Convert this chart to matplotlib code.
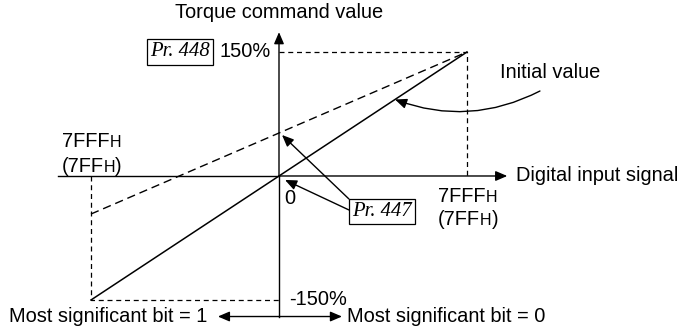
import matplotlib.pyplot as plt

# signal in units of full scale (7FFFH), torque in percent
sig = [-1.0, 0.0, 1.0]
initial_val = [-150, 0, 150]
bias_val = [-46, 52, 150]
full_pct = 150

plt.rcParams['font.family'] = ['Liberation Sans', 'DejaVu Sans']
fs = 14.4

fig = plt.figure(figsize=(6.99, 3.29), dpi=100)
ax = fig.add_axes([0, 0, 1, 1])
ax.set_xlim(-1.484, 2.234)
ax.set_ylim(-185.1, 212.9)
ax.axis('off')

k = 'black'
head = dict(arrowstyle='-|>,head_length=0.7,head_width=0.3', color=k, lw=1.0,
            shrinkA=0, shrinkB=0)

# axes with arrow heads
ax.plot([-1.175, 0], [0, 0], color=k, lw=1.0)
ax.annotate('', xy=(1.214, 0), xytext=(0, 0), arrowprops=head)
ax.plot([0, 0], [-171, 0], color=k, lw=1.0)
ax.annotate('', xy=(0, 174), xytext=(0, 0), arrowprops=head)

# dashed guide lines at the full scale points
ax.plot([0, sig[2], sig[2]], [full_pct, full_pct, 0], color=k, lw=0.9, ls=(0, (4, 3)))
ax.plot([sig[0], sig[0], 0], [0, -full_pct, -full_pct], color=k, lw=0.9, ls=(0, (4, 3)))

# characteristic lines
ax.plot(sig, initial_val, color=k, lw=1.1)
ax.plot(sig, bias_val, color=k, lw=1.0, ls=(0, (6, 3.5)))

# labels
ax.text(0, 198, 'Torque command value', ha='center', va='center', fontsize=fs)
ax.text(1.26, 0, 'Digital input signal', ha='left', va='center', fontsize=fs)
ax.text(-0.045, full_pct, '150%', ha='right', va='center', fontsize=fs)
ax.text(0.055, -full_pct, '-150%', ha='left', va='center', fontsize=fs)
ax.text(0.03, -27, '0', ha='left', va='center', fontsize=fs)


def hex_pair(x, y_top, y_bot):
    # "7FFFH" / "(7FFH)" with a small H on the baseline
    t = ax.text(x, y_top, '7FFF', ha='left', va='center', fontsize=fs)
    ax.annotate('H', xy=(1, 0), xycoords=t, xytext=(0, 0.6), textcoords='offset points',
                ha='left', va='bottom', fontsize=fs * 0.8)
    t = ax.text(x, y_bot, '(7FF', ha='left', va='center', fontsize=fs)
    ax.annotate('H', xy=(1, 0), xycoords=t, xytext=(0, 0.6), textcoords='offset points',
                ha='left', va='bottom', fontsize=fs * 0.8)
    ax.annotate(')', xy=(1, 0), xycoords=t, xytext=(fs * 0.8 * 0.72, 0),
                textcoords='offset points', ha='left', va='bottom', fontsize=fs)


hex_pair(-1.155, 41.7, 12)
hex_pair(0.846, -24.8, -53)

box = dict(boxstyle='square,pad=0.15', fc='white', ec=k, lw=0.9)
ax.text(-0.527, full_pct, 'Pr. 448', ha='center', va='center', fontsize=fs + 0.5,
        family='Liberation Serif', style='italic', bbox=box)
ax.text(0.548, -43, 'Pr. 447', ha='center', va='center', fontsize=fs + 0.5,
        family='Liberation Serif', style='italic', bbox=box)

# pointers from Pr. 447 to the offset points
ax.annotate('', xy=(0.016, 49.6), xytext=(0.372, -27.8), arrowprops=head)
ax.annotate('', xy=(0.032, -4.8), xytext=(0.372, -41.1), arrowprops=head)

# initial value pointer
ax.text(1.176, 124.6, 'Initial value', ha='left', va='center', fontsize=fs)
ip = 0.617
ax.annotate('', xy=(ip, ip * full_pct), xytext=(1.388, 102.8),
            arrowprops=dict(head, connectionstyle='arc3,rad=-0.22'))

# sign bit indication
ax.annotate('', xy=(-0.325, -170), xytext=(0, -170), arrowprops=head)
ax.annotate('', xy=(0.335, -170), xytext=(0, -170), arrowprops=head)
ax.text(-0.38, -170, 'Most significant bit = 1', ha='right', va='center', fontsize=fs)
ax.text(0.36, -170, 'Most significant bit = 0', ha='left', va='center', fontsize=fs)

fig.savefig('out.png', dpi=100)
